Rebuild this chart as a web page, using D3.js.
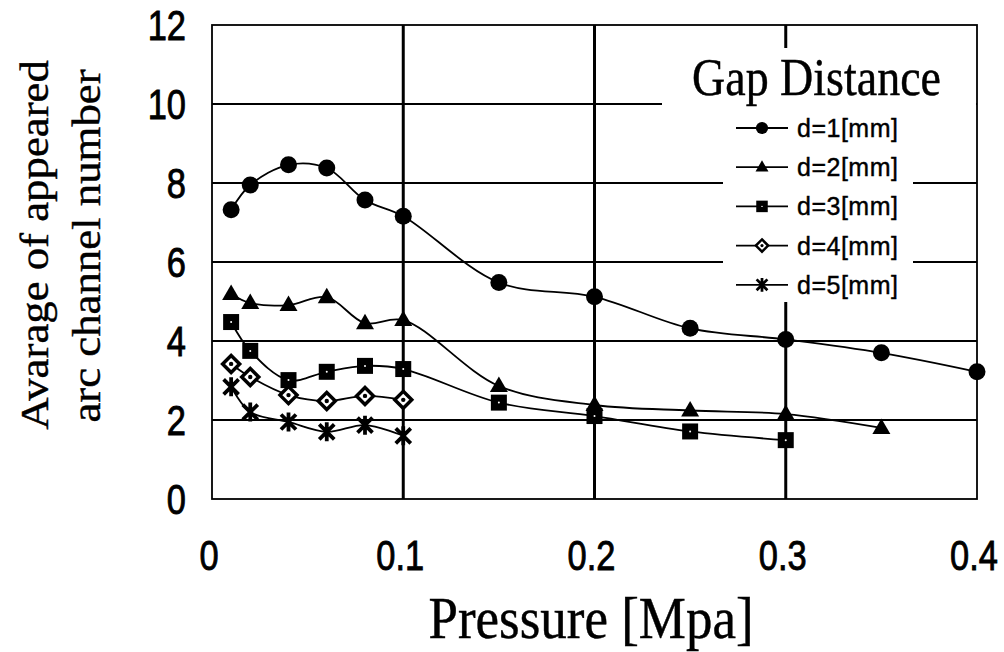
<!DOCTYPE html>
<html>
<head>
<meta charset="utf-8">
<script src="https://cdn.jsdelivr.net/npm/d3@7"></script>
<style>
  body { margin: 0; background: #fff; }
  svg { display: block; }
  .tick-lbl { font-family: "Liberation Sans", Arial, sans-serif; font-size: 42px; fill: #000; stroke: #000; stroke-width: 0.9px; }
  .serif { font-family: "Liberation Serif", "Times New Roman", serif; fill: #000; stroke: #000; stroke-width: 0.4px; }
  .leg-lbl { font-family: "Liberation Sans", Arial, sans-serif; font-size: 25px; letter-spacing: 0.5px; fill: #000; stroke: #000; stroke-width: 0.4px; }
</style>
</head>
<body>
<svg id="chart" width="1004" height="652"></svg>
<script>
// Datos
var pressure = [0.01, 0.02, 0.04, 0.06, 0.08, 0.1, 0.15, 0.2, 0.25, 0.3, 0.35, 0.4];
var gap1 = [7.32, 7.95, 8.46, 8.38, 7.57, 7.16, 5.48, 5.12, 4.32, 4.04, 3.70, 3.22];
var gap2 = [5.19, 4.96, 4.91, 5.11, 4.45, 4.53, 2.86, 2.38, 2.24, 2.15, 1.80];
var gap3 = [4.48, 3.75, 3.01, 3.22, 3.37, 3.29, 2.44, 2.10, 1.71, 1.49];
var gap4 = [3.42, 3.09, 2.63, 2.48, 2.61, 2.51];
var gap5 = [2.84, 2.20, 1.95, 1.70, 1.87, 1.60];
var seriesNames = ["d=1[mm]", "d=2[mm]", "d=3[mm]", "d=4[mm]", "d=5[mm]"];
var xTicks = [0, 0.1, 0.2, 0.3, 0.4];
var yTicks = [0, 2, 4, 6, 8, 10, 12];

init();

function init(){
	var svg = d3.select("#chart");

	var left = 212, right = 977, top = 25, bottom = 499;

	var x = d3.scaleLinear().domain([0, 0.4]).range([left, right]);
	var y = d3.scaleLinear().domain([0, 12]).range([bottom, top]);

	var series = [gap1, gap2, gap3, gap4, gap5].map(function(vals, i){
		return {
			name: seriesNames[i],
			marker: i,
			points: vals.map(function(v, j){ return {p: pressure[j], v: v}; })
		};
	});

	// grid
	var g = svg.append("g");
	g.selectAll(".hgrid")
		.data(yTicks.filter(function(d){ return d > 0 && d < 12; }))
		.enter().append("line")
		.attr("x1", left).attr("x2", right)
		.attr("y1", function(d){ return y(d); })
		.attr("y2", function(d){ return y(d); })
		.attr("stroke", "#000").attr("stroke-width", 2);
	g.selectAll(".vgrid")
		.data(xTicks.filter(function(d){ return d > 0 && d < 0.4; }))
		.enter().append("line")
		.attr("y1", top).attr("y2", bottom)
		.attr("x1", function(d){ return x(d); })
		.attr("x2", function(d){ return x(d); })
		.attr("stroke", "#000").attr("stroke-width", 3);

	// fondo blanco de la leyenda (tapa la grilla)
	g.append("rect").attr("x", 662).attr("y", 48).attr("width", right - 662 - 1).attr("height", 62).attr("fill", "#fff");
	g.append("rect").attr("x", 723).attr("y", 108).attr("width", 190).attr("height", 194).attr("fill", "#fff");

	// lineas
	var line = d3.line()
		.curve(d3.curveCatmullRom.alpha(0.5))
		.x(function(d){ return x(d.p); })
		.y(function(d){ return y(d.v); });

	svg.selectAll(".serie")
		.data(series)
		.enter().append("path")
		.attr("class", "serie")
		.attr("d", function(d){ return line(d.points); })
		.attr("fill", "none")
		.attr("stroke", "#000")
		.attr("stroke-width", 1.8);

	// marcadores
	series.forEach(function(s){
		var m = svg.append("g");
		s.points.forEach(function(pt){
			drawMarker(m, s.marker, x(pt.p), y(pt.v), 1);
		});
	});

	// borde
	svg.append("rect")
		.attr("x", left).attr("y", top)
		.attr("width", right - left).attr("height", bottom - top)
		.attr("fill", "none").attr("stroke", "#000").attr("stroke-width", 1.8);

	// etiquetas eje Y
	yTicks.forEach(function(t){
		svg.append("text")
			.attr("class", "tick-lbl")
			.attr("text-anchor", "end")
			.attr("transform", "translate(186," + (y(t) + 15) + ") scale(0.82,1)")
			.text(t);
	});
	// etiquetas eje X
	xTicks.forEach(function(t){
		svg.append("text")
			.attr("class", "tick-lbl")
			.attr("text-anchor", "middle")
			.attr("transform", "translate(" + (x(t) - 3) + ",570) scale(0.82,1)")
			.text(t);
	});

	// titulos
	svg.append("text")
		.attr("class", "serif")
		.attr("text-anchor", "middle")
		.style("font-size", "53px")
		.attr("transform", "translate(591,638) scale(1,1.12)")
		.text("Pressure [Mpa]");

	svg.append("text")
		.attr("class", "serif")
		.attr("text-anchor", "middle")
		.style("font-size", "40px")
		.attr("transform", "translate(48,245) rotate(-90) scale(1.12,1)")
		.text("Avarage of appeared");
	svg.append("text")
		.attr("class", "serif")
		.attr("text-anchor", "middle")
		.style("font-size", "40px")
		.attr("transform", "translate(100,246) rotate(-90) scale(1.12,1)")
		.text("arc channel number");

	// leyenda
	svg.append("text")
		.attr("class", "serif")
		.style("font-size", "46px")
		.attr("transform", "translate(692,95) scale(1,1.15)")
		.text("Gap Distance");

	var leg = svg.append("g");
	series.forEach(function(s, i){
		var ly = 128 + i * 39.2;
		leg.append("line")
			.attr("x1", 736).attr("x2", 788)
			.attr("y1", ly).attr("y2", ly)
			.attr("stroke", "#000").attr("stroke-width", 1.8);
		drawMarker(leg, s.marker, 762, ly, 0.72);
		leg.append("text")
			.attr("class", "leg-lbl")
			.attr("x", 797).attr("y", ly + 9)
			.text(s.name);
	});
}

function drawMarker(sel, type, cx, cy, k){
	var t = "translate(" + cx + "," + cy + ") scale(" + k + ")";
	if (type == 0) {
		sel.append("circle").attr("cx", cx).attr("cy", cy).attr("r", 8.5 * k).attr("fill", "#000");
	} else if (type == 1) {
		sel.append("path").attr("transform", t)
			.attr("d", "M0,-9.5L9,6L-9,6Z").attr("fill", "#000");
	} else if (type == 2) {
		sel.append("path").attr("transform", t)
			.attr("d", "M-8,-8H8V8H-8Z").attr("fill", "#000");
		sel.append("circle").attr("cx", cx).attr("cy", cy).attr("r", 1 * k).attr("fill", "#fff");
	} else if (type == 3) {
		sel.append("path").attr("transform", t)
			.attr("d", "M0,-8.5L8.5,0L0,8.5L-8.5,0Z")
			.attr("fill", "#fff").attr("stroke", "#000").attr("stroke-width", 3.5);
		sel.append("circle").attr("cx", cx).attr("cy", cy).attr("r", 2.2 * k).attr("fill", "#000");
	} else {
		sel.append("path").attr("transform", t)
			.attr("d", "M-7.5,-7.5L7.5,7.5M7.5,-7.5L-7.5,7.5M0,-9.5V9.5")
			.attr("fill", "none").attr("stroke", "#000").attr("stroke-width", 3.8);
	}
}
</script>
</body>
</html>
